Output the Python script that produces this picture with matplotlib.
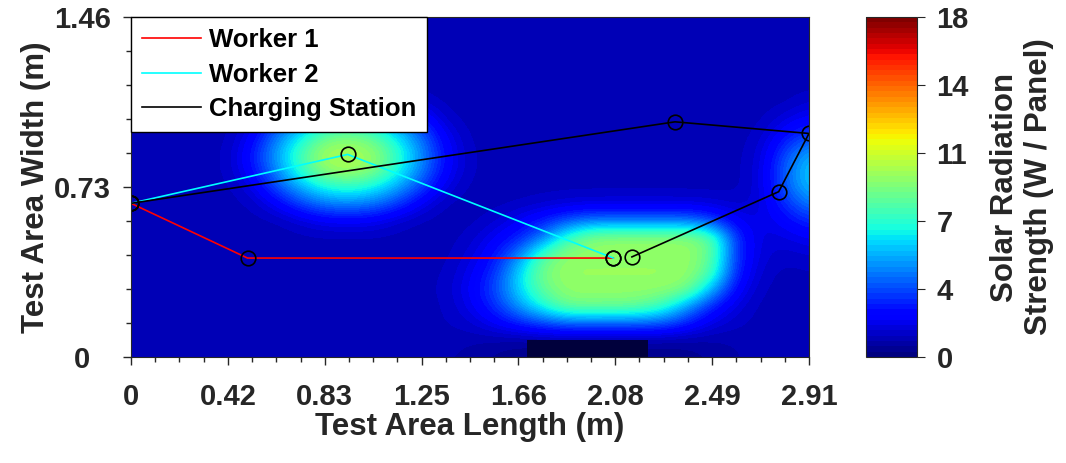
import numpy as np
import matplotlib.pyplot as plt

plt.rcParams['font.family'] = ['Liberation Sans', 'DejaVu Sans']
plt.rcParams['font.weight'] = 'bold'
plt.rcParams['axes.labelweight'] = 'bold'

# solar radiation (W / panel)
# rows: y = 0 .. 1.46 (21 rows, bottom to top), cols: x = 0 .. 2.91 (29 cols)
field_x = np.linspace(0, 2.91, 29)
field_y = np.linspace(0, 1.46, 21)
field = np.array([
    [1.0] * 13 + [0.9, 0.7, 0.5, 0.3, 0.3, 0.3, 0.3, 0.3, 0.3, 0.3, 0.4, 0.6, 0.8, 1.0, 1.0, 1.0],
    [1.0] * 13 + [1.0, 0.9, 0.8, 0.7, 0.7, 0.7, 0.7, 0.7, 0.7, 0.7, 0.7, 0.8, 0.9, 1.0, 1.0, 1.0],
    [1.0] * 13 + [1.1, 1.3, 2.0, 2.8, 3.5, 4.0, 4.0, 4.0, 4.0, 3.8, 2.8, 1.6, 1.2, 1.0, 1.0, 1.0],
    [1.0] * 13 + [1.1, 1.8, 3.0, 5.0, 7.0, 8.8, 8.8, 8.8, 8.6, 7.5, 5.0, 2.8, 1.5, 1.0, 1.0, 1.0],
    [1.0] * 13 + [1.2, 2.0, 3.5, 6.0, 8.5, 9.5, 9.5, 9.5, 9.5, 9.5, 9.0, 5.5, 2.2, 1.1, 1.0, 1.0],
    [1.0] * 13 + [1.1, 1.8, 3.0, 6.0, 9.0, 9.6, 9.6, 9.6, 9.6, 9.6, 9.6, 8.0, 2.8, 1.3, 1.0, 1.1],
    [1.0] * 13 + [1.0, 1.5, 2.5, 4.5, 8.0, 9.5, 9.5, 9.5, 9.5, 9.5, 9.5, 8.5, 3.0, 1.5, 1.2, 1.4],
    [1.0] * 13 + [1.0, 1.2, 2.0, 2.8, 4.5, 7.5, 9.3, 9.5, 9.5, 9.5, 9.5, 8.5, 3.0, 1.5, 1.6, 2.0],
    [1.0] * 7 + [1.4, 1.9, 2.0, 1.9, 1.3] + [1.0, 1.0, 1.0, 1.3, 2.0, 2.8, 3.8, 4.5, 4.5, 4.5, 4.5, 4.5, 3.5, 2.0, 1.6, 2.2, 3.0],
    [1.0] * 5 + [1.1, 2.0, 3.4, 4.4, 4.6, 4.3, 3.3, 1.8, 1.0] + [1.0, 1.0, 1.1, 1.3, 1.5, 1.6, 1.6, 1.6, 1.6, 1.6, 1.5, 1.3, 1.5, 3.0, 4.5],
    [1.0] * 4 + [1.0, 1.6, 3.6, 5.4, 6.9, 7.4, 6.7, 5.3, 3.5, 1.6, 1.0] + [1.0] * 11 + [1.5, 3.8, 5.8],
    [1.0] * 4 + [1.1, 2.4, 4.8, 7.3, 9.5, 10.0, 9.3, 7.0, 4.6, 2.2, 1.1] + [1.0] * 11 + [1.5, 4.0, 6.0],
    [1.0] * 4 + [1.1, 2.6, 5.1, 7.9, 10.0, 10.0, 9.7, 7.5, 4.8, 2.3, 1.1] + [1.0] * 11 + [1.4, 3.5, 5.3],
    [1.0] * 4 + [1.0, 2.0, 4.4, 6.4, 8.5, 9.1, 8.3, 6.2, 4.2, 1.9, 1.0] + [1.0] * 11 + [1.2, 2.5, 3.5],
    [1.0] * 5 + [1.4, 3.0, 4.6, 5.6, 5.9, 5.4, 4.5, 2.8, 1.2] + [1.0] * 13 + [1.6, 2.2],
    [1.0] * 6 + [1.4, 2.4, 3.2, 3.4, 3.1, 2.3, 1.3] + [1.0] * 15 + [1.4],
    [1.0] * 8 + [1.3, 1.2, 1.2] + [1.0] * 18,
    [1.0] * 29,
    [1.0] * 29,
    [1.0] * 29,
    [1.0] * 29,
])

# shaded strip at the bottom edge
shadow_x = [1.70, 2.22]
shadow_top = 0.073

# routes (m)
w1_x = [0, 0.50, 2.07]
w1_y = [0.66, 0.425, 0.425]
w2_x = [0, 0.93, 2.07]
w2_y = [0.66, 0.87, 0.425]
cs_x = [0, 2.335, 2.91, 2.78, 2.15]
cs_y = [0.66, 1.01, 0.96, 0.71, 0.43]

cb_ticks = [0, 3.6, 7.2, 10.8, 14.4, 18]
cb_labels = ['0', '4', '7', '11', '14', '18']
x_ticks = np.linspace(0, 2.91, 8)
x_labels = ['0', '0.42', '0.83', '1.25', '1.66', '2.08', '2.49', '2.91']
y_ticks = [0, 0.73, 1.46]
y_labels = ['0', '0.73', '1.46']

fig = plt.figure(figsize=(10.66, 4.63), dpi=100)
ax = fig.add_axes([0.1229, 0.2289, 0.636, 0.7343])
cax = fig.add_axes([0.8124, 0.2289, 0.0478, 0.7343])

cmap = plt.get_cmap('jet', 64)
dx = field_x[1] - field_x[0]
dy = field_y[1] - field_y[0]
im = ax.imshow(field, origin='lower', aspect='auto', cmap=cmap, vmin=0, vmax=18,
               interpolation='bicubic',
               extent=[field_x[0] - dx/2, field_x[-1] + dx/2, field_y[0] - dy/2, field_y[-1] + dy/2])
ax.fill_between(shadow_x, 0, shadow_top, color='#00003c', lw=0)

ax.plot(w1_x, w1_y, color='red', lw=1.2, label='Worker 1')
ax.plot(w2_x, w2_y, color='cyan', lw=1.2, label='Worker 2')
ax.plot(cs_x, cs_y, color='black', lw=1.2, label='Charging Station')
for xs, ys in [(w1_x, w1_y), (w2_x, w2_y), (cs_x, cs_y)]:
    ax.plot(xs, ys, ls='none', marker='o', ms=10.5, mfc='none', mec='black', mew=1.2)

ax.set_xlim(0, 2.91)
ax.set_ylim(0, 1.46)
ax.set_xticks(x_ticks)
ax.set_xticklabels(x_labels)
ax.set_yticks(y_ticks)
ax.set_yticklabels(y_labels)
ax.set_xticks(np.linspace(0, 2.91, 29), minor=True)
ax.set_yticks(np.linspace(0, 1.46, 11), minor=True)
ax.tick_params(which='both', direction='out', colors='#262626', labelsize=21)
ax.tick_params(axis='x', which='both', pad=12.5)
ax.tick_params(axis='y', which='both', pad=29)
ax.tick_params(which='major', length=6, width=1)
ax.tick_params(which='minor', length=3.5, width=1)
for lbl in ax.get_yticklabels():
    lbl.set_ha('center')
for s in ax.spines.values():
    s.set_color('#262626')
ax.set_xlabel('Test Area Length (m)', fontsize=22.5, color='#262626', labelpad=1)
ax.set_ylabel('Test Area Width (m)', fontsize=22.5, color='#262626', labelpad=2)

leg = ax.legend(loc='upper left', fontsize=18.5, frameon=True, fancybox=False,
                edgecolor='black', framealpha=1, borderaxespad=0, handlelength=2.3,
                handletextpad=0.3, labelspacing=0.42, borderpad=0.42)
leg.get_frame().set_linewidth(1)

cb = fig.colorbar(im, cax=cax, ticks=cb_ticks)
cb.ax.set_yticklabels(cb_labels)
cb.ax.tick_params(direction='out', length=6, colors='#262626', labelsize=21, pad=8)
cb.outline.set_edgecolor('#262626')
cb.set_label('Solar Radiation\nStrength (W / Panel)', fontsize=22.5, fontweight='bold',
             color='#262626', labelpad=15)

fig.savefig('out.png', dpi=100)
